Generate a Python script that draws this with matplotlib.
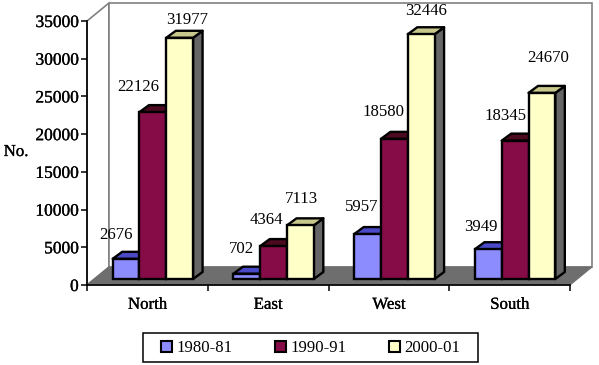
import matplotlib
matplotlib.use("Agg")
import matplotlib.pyplot as plt
import matplotlib.patheffects as pe
from matplotlib.patches import Patch, Rectangle

categories = ["North", "East", "West", "South"]
series_names = ["1980-81", "1990-91", "2000-01"]
values_1980 = [2676, 702, 5957, 3949]
values_1990 = [22126, 4364, 18580, 18345]
values_2000 = [31977, 7113, 32446, 24670]
y_ticks = [0, 5000, 10000, 15000, 20000, 25000, 30000, 35000]

# styles
FRONT = ["#8C8CFF", "#860C48", "#FFFFC8"]
TOP = ["#4A4AC8", "#4C0A20", "#C8C88C"]
SIDE = "#666666"
FLOOR = "#6E6E6E"
WALL_EDGE = "#808080"
LABEL_OFFSETS = [
    [(-10, 24), (-15, 25), (7, 18)],
    [(-5, 25), (-7, 26), (1, 26)],
    [(-6, 27), (-11, 27), (5, 23)],
    [(-7, 22), (-10, 25), (6, 35)],
]

W, H = 599, 365
plt.rcParams["font.family"] = ["Liberation Serif", "DejaVu Serif"]
FS = 12.1
HEAVY = [pe.withStroke(linewidth=0.2, foreground="black")]
fig = plt.figure(figsize=(W / 100, H / 100), dpi=100, facecolor="white")
L, R, T, B = 87, 570, 21, 285
ax = fig.add_axes([L / W, 1 - B / H, (R - L) / W, (B - T) / H])
ax.set_xlim(0, 4)
ax.set_ylim(0, 35000)
ax.patch.set_visible(False)

px = 4 / (R - L)
py = 35000 / (B - T)
# wall/floor depth, bar depth, bar inset from the axis plane
DX, DY = 22 * px, 18 * py
BX, BY = 9.5 * px, 7 * py
IX, IY = 5.5 * px, 6 * py
BAR_W = 26.8 * px
GROUP_START = 0.5 - 1.5 * BAR_W
LW = 1.7

# walls
ax.fill([0, DX, DX, 0], [0, DY, 35000 + DY, 35000], fc="white", ec=WALL_EDGE, lw=1.2, zorder=1, clip_on=False)
ax.fill([DX, 4 + DX, 4 + DX, DX], [DY, DY, 35000 + DY, 35000 + DY], fc="white", ec=WALL_EDGE, lw=1.2, zorder=1, clip_on=False)
# floor
ax.fill([0, 4, 4 + DX, DX], [0, 0, DY, DY], fc=FLOOR, ec=FLOOR, lw=0.8, zorder=1.5, clip_on=False)

all_series = [values_1980, values_1990, values_2000]
z = 3
for c in range(len(categories)):
    for s, vals in enumerate(all_series):
        x0 = c + GROUP_START + s * BAR_W + IX
        x1 = x0 + BAR_W
        y0, y1 = IY, IY + vals[c]
        ax.fill([x1, x1 + BX, x1 + BX, x1], [y0, y0 + BY, y1 + BY, y1], fc=SIDE, ec="black", lw=LW, zorder=z, joinstyle="round", clip_on=False)
        ax.fill([x0, x1, x1 + BX, x0 + BX], [y1, y1, y1 + BY, y1 + BY], fc=TOP[s], ec="black", lw=LW, zorder=z, joinstyle="round", clip_on=False)
        ax.bar(x0, vals[c], BAR_W, bottom=IY, align="edge", fc=FRONT[s], ec="black", lw=LW, zorder=z + 0.1, clip_on=False)
        ax.annotate(str(vals[c]), (x0 + BAR_W / 2, y1), xytext=LABEL_OFFSETS[c][s], textcoords="offset pixels",
                    ha="center", va="center", fontsize=FS, color="black", zorder=20, annotation_clip=False)
        z += 0.2

for sp in ("top", "right"):
    ax.spines[sp].set_visible(False)
for sp in ("left", "bottom"):
    ax.spines[sp].set_linewidth(1.2)
    ax.spines[sp].set_zorder(2)
ax.set_yticks(y_ticks)
ax.set_yticklabels([str(t) for t in y_ticks], fontsize=FS + 0.4, path_effects=HEAVY)
ax.tick_params(axis="y", length=4, width=1.1, pad=2)
ax.set_xticks(range(5))
ax.set_xticklabels([""] * 5)
ax.tick_params(axis="x", which="major", length=4, width=1.1)
ax.set_xticks([i + 0.5 for i in range(4)], minor=True)
ax.set_xticklabels(categories, minor=True, fontsize=FS, path_effects=HEAVY)
ax.tick_params(axis="x", which="minor", length=0, pad=8.5)

fig.text(16 / W, 1 - 152 / H, "No.", fontsize=FS, ha="center", va="center", path_effects=HEAVY)

# legend
fig.add_artist(Rectangle((143 / W, 1 - 362 / H), 335 / W, 29 / H, transform=fig.transFigure,
                         fc="white", ec="black", lw=1.1))
handles = [Patch(fc=FRONT[i], ec="black", lw=1.5, label=series_names[i]) for i in range(3)]
fig.legend(handles=handles, loc="center", bbox_to_anchor=(310.5 / W, 1 - 348.5 / H), ncol=3, frameon=False,
           fontsize=FS, handlelength=0.66, handleheight=0.66, handletextpad=0.28, columnspacing=2.5)

fig.savefig("out.png", dpi=100)
